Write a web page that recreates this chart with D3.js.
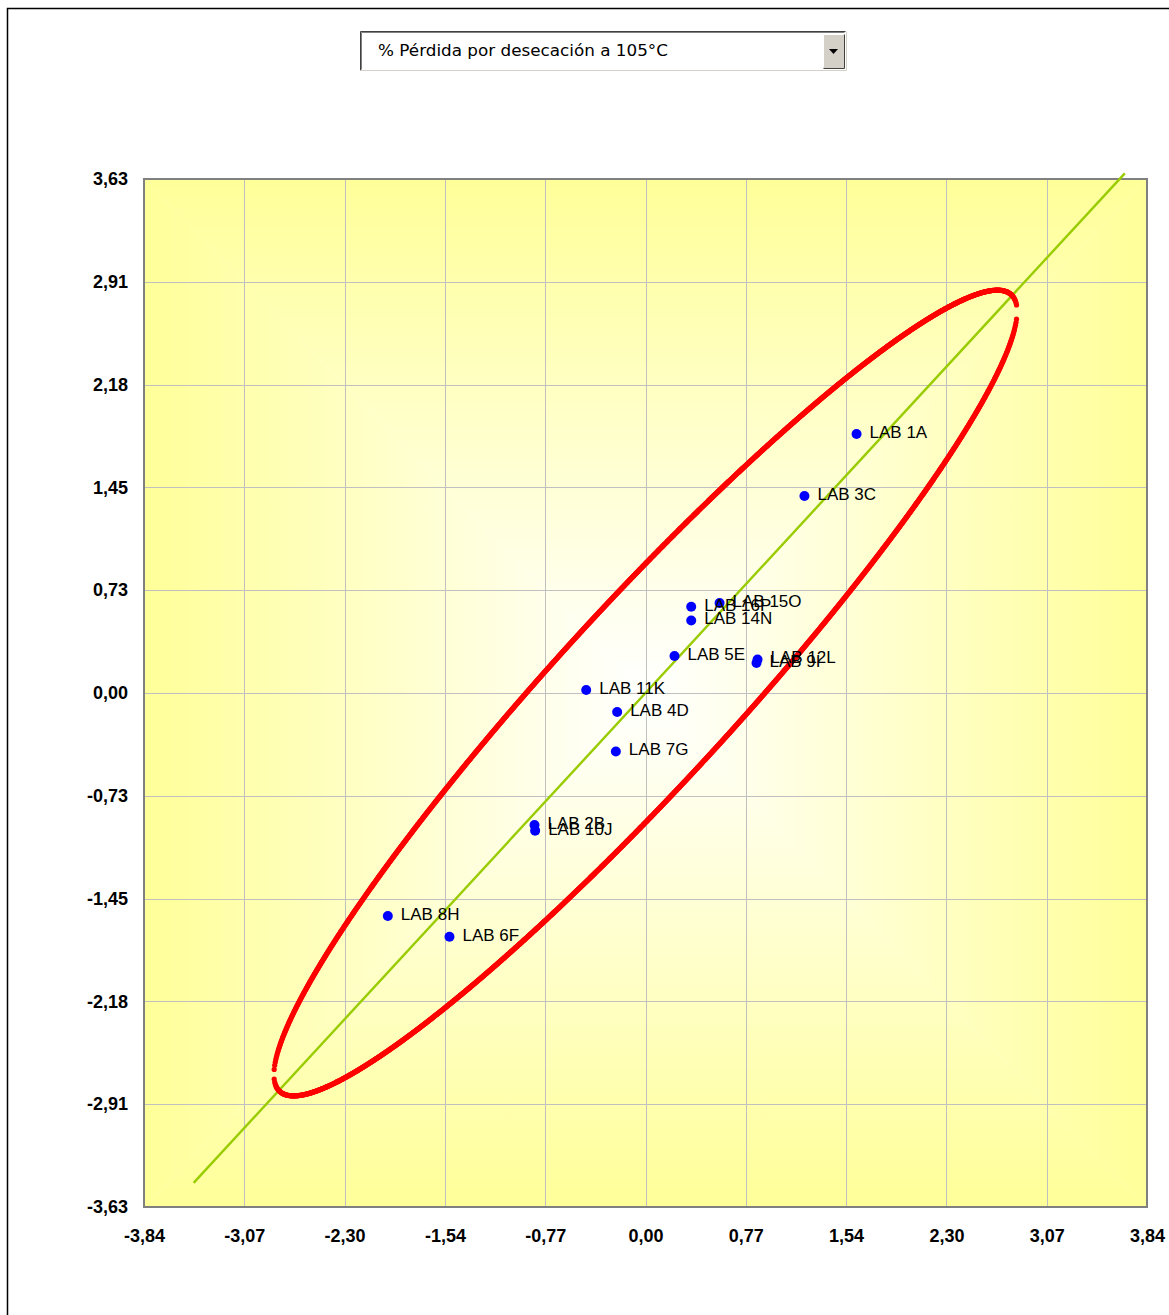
<!DOCTYPE html>
<html>
<head>
<meta charset="utf-8">
<script src="https://cdn.jsdelivr.net/npm/d3@7"></script>
<style>
  html, body { margin: 0; padding: 0; background: #ffffff; }
  svg { display: block; }
</style>
</head>
<body>
<svg id="chart" width="1169" height="1315"></svg>
<script>
// Laboratory results (standardised scores) for the selected parameter
const labNames = ["LAB 1A", "LAB 3C", "LAB 16P", "LAB 15O", "LAB 14N", "LAB 5E", "LAB 12L", "LAB 9I",
                  "LAB 11K", "LAB 4D", "LAB 7G", "LAB 2B", "LAB 10J", "LAB 8H", "LAB 6F"];
const xValues = [1.616, 1.217, 0.350, 0.567, 0.350, 0.222, 0.858, 0.850,
                 -0.454, -0.217, -0.227, -0.850, -0.845, -1.973, -1.501];
const yValues = [1.829, 1.391, 0.609, 0.636, 0.512, 0.261, 0.237, 0.212,
                 0.021, -0.134, -0.413, -0.932, -0.972, -1.575, -1.721];

// Axis ticks
const xTickValues = [-3.84, -3.072, -2.304, -1.536, -0.768, 0, 0.768, 1.536, 2.304, 3.072, 3.84];
const xTickLabels = ["-3,84", "-3,07", "-2,30", "-1,54", "-0,77", "0,00", "0,77", "1,54", "2,30", "3,07", "3,84"];
const yTickValues = [-3.63, -2.904, -2.178, -1.452, -0.726, 0, 0.726, 1.452, 2.178, 2.904, 3.63];
const yTickLabels = ["-3,63", "-2,91", "-2,18", "-1,45", "-0,73", "0,00", "0,73", "1,45", "2,18", "2,91", "3,63"];

// Reference line y = x
const refLineX = [-3.46, 3.67];
const refLineY = [-3.46, 3.67];

// Confidence ellipse (Youden plot)
const ellipseCenter = [0, 0];
const ellipseSemiMajor = 3.97;
const ellipseSemiMinor = 0.655;
const ellipseAngleDeg = 45;

const parameterName = "% Pérdida por desecación a 105°C";

const svg = d3.select("#chart");

// Outer frame
svg.append("rect")
  .attr("x", 7.5).attr("y", 8.5).attr("width", 1300).attr("height", 1400)
  .attr("fill", "#ffffff").attr("stroke", "#000000").attr("stroke-width", 1.5);

// Parameter selector box
const sel = svg.append("g");
sel.append("rect").attr("x", 360).attr("y", 31).attr("width", 486).attr("height", 40)
  .attr("fill", "#ffffff");
sel.append("path").attr("d", "M360.5,70.5 V31.5 H845.5").attr("fill", "none")
  .attr("stroke", "#404040").attr("stroke-width", 1);
sel.append("path").attr("d", "M361.5,69.5 V32.5 H844.5").attr("fill", "none")
  .attr("stroke", "#808080").attr("stroke-width", 1);
sel.append("path").attr("d", "M360.5,70.5 H846.5 V31.5").attr("fill", "none")
  .attr("stroke", "#d4d0c8").attr("stroke-width", 1);
sel.append("rect").attr("x", 823).attr("y", 34).attr("width", 21).attr("height", 34)
  .attr("fill", "#d4d0c8");
sel.append("path").attr("d", "M823.5,67.5 V34.5 H843.5").attr("fill", "none")
  .attr("stroke", "#ffffff").attr("stroke-width", 1);
sel.append("path").attr("d", "M823.5,68.5 H844.5 V34.5").attr("fill", "none")
  .attr("stroke", "#404040").attr("stroke-width", 1);
sel.append("path").attr("d", "M829,49 H838 L833.5,54 Z").attr("fill", "#000000");
sel.append("text").attr("x", 378).attr("y", 56)
  .attr("font-family", "DejaVu Sans, Verdana, sans-serif").attr("font-size", 15.5)
  .attr("fill", "#000000").attr("textLength", 290).attr("lengthAdjust", "spacingAndGlyphs")
  .text(parameterName);

// Plot area
const plot = { left: 144, right: 1147, top: 179, bottom: 1207 };
const x = d3.scaleLinear().domain([-3.84, 3.84]).range([plot.left, plot.right]);
const y = d3.scaleLinear().domain([-3.63, 3.63]).range([plot.bottom, plot.top]);
const cx = x(0), cy = y(0);

// Rectangular "from centre" gradient: four triangles, each shaded toward its edge
const defs = svg.append("defs");
const edgeColor = "#ffff99", centreColor = "#ffffff";
function grad(id, x1, y1, x2, y2) {
  const g = defs.append("linearGradient").attr("id", id).attr("gradientUnits", "userSpaceOnUse")
    .attr("x1", x1).attr("y1", y1).attr("x2", x2).attr("y2", y2);
  g.append("stop").attr("offset", 0).attr("stop-color", centreColor);
  g.append("stop").attr("offset", 1).attr("stop-color", edgeColor);
}
grad("gTop", cx, cy, cx, plot.top);
grad("gBottom", cx, cy, cx, plot.bottom);
grad("gLeft", cx, cy, plot.left, cy);
grad("gRight", cx, cy, plot.right, cy);
const bg = svg.append("g");
const tri = (pts, fill) => bg.append("path").attr("d", "M" + pts.map(p => p.join(",")).join("L") + "Z")
  .attr("fill", fill).attr("stroke", fill).attr("stroke-width", 0.5);
tri([[plot.left, plot.top], [plot.right, plot.top], [cx, cy]], "url(#gTop)");
tri([[plot.left, plot.bottom], [plot.right, plot.bottom], [cx, cy]], "url(#gBottom)");
tri([[plot.left, plot.top], [plot.left, plot.bottom], [cx, cy]], "url(#gLeft)");
tri([[plot.right, plot.top], [plot.right, plot.bottom], [cx, cy]], "url(#gRight)");

// Gridlines
const grid = svg.append("g").attr("stroke", "#c0c0c0").attr("stroke-width", 1);
xTickValues.slice(1, -1).forEach(v => {
  const px = Math.round(x(v)) + 0.5;
  grid.append("line").attr("x1", px).attr("x2", px).attr("y1", plot.top).attr("y2", plot.bottom);
});
yTickValues.slice(1, -1).forEach(v => {
  const py = Math.round(y(v)) + 0.5;
  grid.append("line").attr("x1", plot.left).attr("x2", plot.right).attr("y1", py).attr("y2", py);
});

// Plot border
svg.append("rect").attr("x", plot.left).attr("y", plot.top)
  .attr("width", plot.right - plot.left).attr("height", plot.bottom - plot.top)
  .attr("fill", "none").attr("stroke", "#808080").attr("stroke-width", 2);

// Axis labels
const axisFont = "Liberation Sans, Arial, sans-serif";
const xAxis = d3.axisBottom(x).tickValues(xTickValues)
  .tickFormat((d, i) => xTickLabels[i]).tickSize(0).tickPadding(0);
const xa = svg.append("g").attr("transform", `translate(0,${plot.bottom + 22})`).call(xAxis);
xa.select(".domain").remove();
xa.selectAll("text").attr("font-family", axisFont).attr("font-size", 18)
  .attr("font-weight", "bold").attr("fill", "#000000");

const yAxis = d3.axisLeft(y).tickValues(yTickValues)
  .tickFormat((d, i) => yTickLabels[i]).tickSize(0).tickPadding(0);
const ya = svg.append("g").attr("transform", `translate(${plot.left - 16},0)`).call(yAxis);
ya.select(".domain").remove();
ya.selectAll("text").attr("font-family", axisFont).attr("font-size", 18)
  .attr("font-weight", "bold").attr("fill", "#000000");

// Reference line y = x
svg.append("line")
  .attr("x1", x(refLineX[0])).attr("y1", y(refLineY[0]))
  .attr("x2", x(refLineX[1])).attr("y2", y(refLineY[1]))
  .attr("stroke", "#99cc00").attr("stroke-width", 2.4);

// Ellipse: upper and lower branches sampled along x, drawn as markers
const th = ellipseAngleDeg * Math.PI / 180;
const cs = Math.cos(th), sn = Math.sin(th);
const a2 = ellipseSemiMajor * ellipseSemiMajor, b2 = ellipseSemiMinor * ellipseSemiMinor;
const P = sn * sn / a2 + cs * cs / b2;
const xHalf = Math.sqrt(a2 * cs * cs + b2 * sn * sn);
const ellipsePts = [];
d3.range(-xHalf + 0.002, xHalf - 0.002, 0.004).forEach(xv => {
  const dx = xv;
  const Q = 2 * dx * (cs * sn / a2 - sn * cs / b2);
  const R = dx * dx * (cs * cs / a2 + sn * sn / b2) - 1;
  const disc = Q * Q - 4 * P * R;
  if (disc < 0) return;
  const r = Math.sqrt(disc);
  ellipsePts.push([ellipseCenter[0] + dx, ellipseCenter[1] + (-Q + r) / (2 * P)]);
  ellipsePts.push([ellipseCenter[0] + dx, ellipseCenter[1] + (-Q - r) / (2 * P)]);
});
svg.append("g").attr("fill", "#ff0000")
  .selectAll("circle").data(ellipsePts).join("circle")
  .attr("cx", d => x(d[0])).attr("cy", d => y(d[1])).attr("r", 2.6);

// Laboratory points and labels
const labs = labNames.map((n, i) => ({ name: n, xv: xValues[i], yv: yValues[i] }));
svg.append("g").attr("fill", "#0000ff")
  .selectAll("circle").data(labs).join("circle")
  .attr("cx", d => x(d.xv)).attr("cy", d => y(d.yv)).attr("r", 5);
svg.append("g")
  .selectAll("text").data(labs).join("text")
  .attr("x", d => x(d.xv) + 13).attr("y", d => y(d.yv) - 2)
  .attr("dy", "0.35em")
  .attr("font-family", axisFont).attr("font-size", 17).attr("fill", "#000000")
  .text(d => d.name);
</script>
</body>
</html>
